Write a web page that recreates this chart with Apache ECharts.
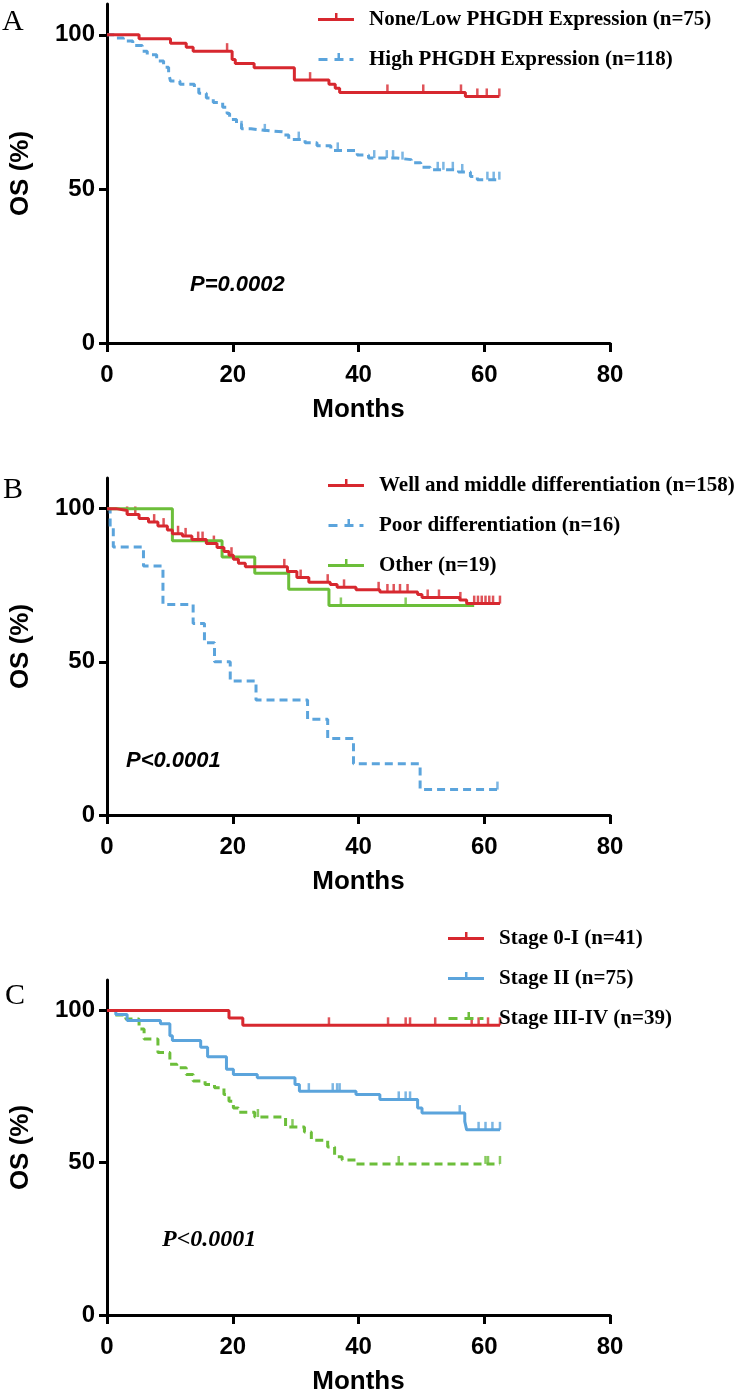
<!DOCTYPE html>
<html>
<head>
<meta charset="utf-8">
<style>
  html, body { margin: 0; padding: 0; background: #fff; }
  #J_Chart { width: 743px; height: 1396px; }
</style>
<script src="https://cdn.jsdelivr.net/npm/echarts@6/dist/echarts.min.js"></script>
</head>
<body>
<div id="J_Chart"></div>
<script>
'use strict';

// ---- data (months / OS %) ----
const monthTicks = [0, 20, 40, 60, 80];
const osTicks = [0, 50, 100];

// A: PHGDH expression
const lowTimes = [0, 5.1, 10.1, 12.6, 13.7, 19.9, 20.4, 23.4, 29.8, 35.3, 36.3, 37.0, 57.0, 62.4];
const lowSurv = [100, 98.7, 97.3, 96.0, 94.7, 92.0, 90.7, 89.3, 85.3, 84.0, 82.7, 81.3, 80.0, 80.0];
const lowCensor = [19.1, 32.3, 44.6, 50.3, 56.3, 58.9, 60.4, 62.4];

const highTimes = [0, 1.1, 2.6, 4.1, 5.6, 6.4, 7.9, 9.0, 9.8, 10.1, 11.6, 13.9, 14.6, 15.8, 16.9, 18.4, 19.1, 19.5, 20.6, 21.4, 22.9, 25.1, 28.1, 28.9, 31.5, 33.4, 35.6, 39.8, 41.6, 46.1, 48.4, 49.9, 51.4, 55.9, 57.8, 58.9, 62.4];
const highSurv = [100, 99.0, 98.0, 96.5, 94.7, 93.5, 91.5, 89.5, 87.5, 85.0, 84.0, 83.0, 81.0, 79.5, 78.0, 76.5, 74.5, 72.5, 71.0, 69.5, 69.0, 68.5, 67.5, 66.0, 65.0, 64.0, 62.5, 61.0, 60.0, 59.5, 58.5, 57.0, 56.2, 55.5, 54.0, 53.0, 53.0];
const highCensor = [21.4, 25.1, 30.5, 36.7, 42.5, 44.5, 45.5, 47.0, 52.6, 53.5, 55.0, 56.5, 60.5, 61.5, 62.4];

// B: differentiation
const wellTimes = [0, 1.4, 3.2, 5.1, 6.6, 8.1, 9.6, 10.4, 12.0, 13.5, 15.8, 17.5, 18.6, 19.4, 20.1, 20.9, 22.0, 28.7, 30.2, 32.1, 35.5, 36.6, 39.6, 43.4, 49.4, 50.1, 56.1, 57.2, 62.5];
const wellSurv = [100, 99.4, 98.1, 96.8, 95.6, 94.3, 93.0, 91.8, 91.1, 89.9, 88.6, 87.3, 86.0, 84.8, 83.5, 82.2, 81.0, 79.5, 77.5, 76.0, 75.2, 74.3, 73.5, 72.8, 72.0, 71.0, 70.2, 69.0, 69.0];
const wellCensor = [3.2, 4.5, 7.5, 9.0, 11.3, 12.5, 14.5, 15.2, 17.0, 19.8, 28.2, 30.8, 35.1, 37.7, 43.2, 44.6, 45.6, 46.6, 47.8, 51.0, 52.8, 56.2, 58.4, 59.0, 59.6, 60.2, 60.8, 61.4, 62.5];

const poorTimes = [0, 0.5, 1.0, 5.8, 8.9, 13.7, 15.5, 17.1, 19.6, 23.7, 31.9, 35.1, 39.2, 49.8, 62.1];
const poorSurv = [100, 93.75, 87.5, 81.25, 68.75, 62.5, 56.25, 50.0, 43.75, 37.5, 31.25, 25.0, 16.7, 8.3, 8.3];
const poorCensor = [62.1];

const otherTimes = [0, 10.4, 18.3, 23.5, 28.9, 35.3, 58.4];
const otherSurv = [100, 89.5, 84.2, 78.9, 73.7, 68.4, 68.4];
const otherCensor = [37.2, 47.5];

// C: stage
const s0Times = [0, 19.4, 21.6, 62.5];
const s0Surv = [100, 97.56, 95.12, 95.12];
const s0Censor = [35.3, 44.7, 47.5, 48.2, 52.2, 58.0, 59.1, 60.6, 62.5];

const s2Times = [0, 1.4, 3.2, 8.5, 10.0, 10.4, 14.9, 16.0, 19.0, 20.1, 23.9, 29.9, 30.6, 39.6, 43.4, 49.4, 50.1, 56.9, 57.2, 62.5];
const s2Surv = [100, 98.7, 96.7, 95.6, 91.7, 90.1, 87.9, 84.8, 80.7, 79.0, 77.9, 75.7, 73.5, 72.4, 70.8, 68.0, 66.3, 63.6, 60.8, 60.8];
const s2Censor = [32.1, 35.9, 36.6, 37.0, 46.4, 47.5, 48.2, 56.1, 59.1, 60.2, 61.3, 62.5];

const s3Times = [0, 1.3, 3.0, 5.1, 5.9, 8.1, 10.0, 11.1, 12.6, 13.7, 15.6, 17.1, 18.6, 19.4, 20.1, 20.9, 23.5, 28.4, 31.4, 32.5, 35.1, 36.2, 37.4, 39.6, 62.5];
const s3Surv = [100, 98.5, 97.2, 93.9, 90.6, 86.2, 82.3, 81.2, 79.0, 76.8, 75.7, 74.6, 72.4, 70.2, 68.0, 66.6, 65.0, 61.7, 60.1, 57.4, 55.2, 52.0, 50.9, 49.6, 49.6];
const s3Censor = [24.0, 29.5, 46.4, 60.2, 60.6, 62.5];

// ---- styling ----
const RED = '#d7282f';
const BLUE = '#5ba4dc';
const GREEN = '#6cbe3a';
const SANS = '"Liberation Sans", Arial, sans-serif';
const SERIF = '"Liberation Serif", "Times New Roman", serif';

const ICON_SOLID = 'path://M0,0H0.01V0.01H0Z M0,15H0.01V15.01H0Z M0,6H36V9H0Z M17,1H19.5V6H17Z';
const ICON_DASH = 'path://M0,0H0.01V0.01H0Z M0,15H0.01V15.01H0Z M0,6H9V9H0Z M16,6H25V9H16Z M19,1H21.5V6H19Z M31,6H35V9H31Z';

const grids = [
  { left: 102, width: 508, top: 4, height: 339 },
  { left: 102, width: 508, top: 478, height: 337 },
  { left: 102, width: 508, top: 980, height: 340 },
];

function survAt(times, surv, t) {
  let v = surv[0];
  for (let i = 0; i < times.length; i++) {
    if (times[i] <= t) v = surv[i];
  }
  return v;
}

function curve(name, times, surv, censor, idx, color, dashed) {
  return [
    {
      name,
      type: 'line',
      step: 'end',
      xAxisIndex: idx,
      yAxisIndex: idx,
      data: times.map((t, i) => [t, surv[i]]),
      showSymbol: false,
      symbol: 'none',
      lineStyle: { color, width: 3, type: dashed ? [8, 5] : 'solid' },
      itemStyle: { color },
      emphasis: { disabled: true },
      animation: false,
    },
    {
      name,
      type: 'scatter',
      xAxisIndex: idx,
      yAxisIndex: idx,
      data: censor.map((t) => [t, survAt(times, surv, t)]),
      symbol: 'rect',
      symbolSize: [2.5, 8],
      symbolOffset: [0, -4],
      itemStyle: { color },
      emphasis: { disabled: true },
      animation: false,
    },
  ];
}

const xAxes = grids.map((g, i) => ({
  type: 'value',
  gridIndex: i,
  min: 0,
  max: 80,
  interval: 20,
  name: 'Months',
  nameLocation: 'middle',
  nameGap: 54,
  nameTextStyle: { fontFamily: SANS, fontWeight: 'bold', fontSize: 26, color: '#000' },
  axisLine: { lineStyle: { color: '#000', width: 3 } },
  axisTick: { length: 9, customValues: monthTicks, lineStyle: { width: 3, color: '#000' } },
  axisLabel: { margin: 20, customValues: monthTicks, fontFamily: SANS, fontWeight: 'bold', fontSize: 24, color: '#000' },
  splitLine: { show: false },
}));

const yAxes = grids.map((g, i) => ({
  type: 'value',
  gridIndex: i,
  min: 0,
  max: 110,
  name: 'OS (%)',
  nameLocation: 'middle',
  nameGap: 73,
  nameTextStyle: { fontFamily: SANS, fontWeight: 'bold', fontSize: 26, color: '#000' },
  axisLine: { show: true, lineStyle: { color: '#000', width: 3 } },
  axisTick: { show: true, length: 8, customValues: osTicks, lineStyle: { width: 3, color: '#000' } },
  axisLabel: { margin: 12, customValues: osTicks, fontFamily: SANS, fontWeight: 'bold', fontSize: 24, color: '#000' },
  splitLine: { show: false },
}));

function legend(top, left, items) {
  return {
    orient: 'vertical',
    top,
    left,
    itemWidth: 36,
    itemHeight: 15,
    itemGap: 17,
    selectedMode: false,
    itemStyle: { borderWidth: 0 },
    textStyle: { fontFamily: SERIF, fontWeight: 'bold', fontSize: 21, lineHeight: 23, color: '#000', padding: [0, 0, 0, 10] },
    data: items,
  };
}

const option = {
  backgroundColor: '#fff',
  grid: grids,
  xAxis: xAxes,
  yAxis: yAxes,
  legend: [
    legend(3, 313, [
      { name: 'None/Low PHGDH Expression (n=75)', icon: ICON_SOLID },
      { name: 'High PHGDH Expression (n=118)', icon: ICON_DASH },
    ]),
    legend(469, 323, [
      { name: 'Well and middle differentiation (n=158)', icon: ICON_SOLID },
      { name: 'Poor differentiation (n=16)', icon: ICON_DASH },
      { name: 'Other (n=19)', icon: ICON_SOLID },
    ]),
    legend(922, 443, [
      { name: 'Stage 0-I (n=41)', icon: ICON_SOLID },
      { name: 'Stage II (n=75)', icon: ICON_SOLID },
      { name: 'Stage III-IV (n=39)', icon: ICON_DASH },
    ]),
  ],
  graphic: [
    { type: 'text', left: 2, top: 7, style: { text: 'A', font: '30px ' + SERIF, fill: '#000' } },
    { type: 'text', left: 3, top: 475, style: { text: 'B', font: '30px ' + SERIF, fill: '#000' } },
    { type: 'text', left: 5, top: 981, style: { text: 'C', font: '30px ' + SERIF, fill: '#000' } },
    { type: 'text', left: 190, top: 274, style: { text: 'P=0.0002', font: 'italic bold 22px ' + SANS, fill: '#000' } },
    { type: 'text', left: 126, top: 750, style: { text: 'P<0.0001', font: 'italic bold 22px ' + SANS, fill: '#000' } },
    { type: 'text', left: 162, top: 1228, style: { text: 'P<0.0001', font: 'italic bold 24px ' + SERIF, fill: '#000' } },
  ],
  series: [
    ...curve('High PHGDH Expression (n=118)', highTimes, highSurv, highCensor, 0, BLUE, true),
    ...curve('None/Low PHGDH Expression (n=75)', lowTimes, lowSurv, lowCensor, 0, RED, false),
    ...curve('Poor differentiation (n=16)', poorTimes, poorSurv, poorCensor, 1, BLUE, true),
    ...curve('Other (n=19)', otherTimes, otherSurv, otherCensor, 1, GREEN, false),
    ...curve('Well and middle differentiation (n=158)', wellTimes, wellSurv, wellCensor, 1, RED, false),
    ...curve('Stage III-IV (n=39)', s3Times, s3Surv, s3Censor, 2, GREEN, true),
    ...curve('Stage II (n=75)', s2Times, s2Surv, s2Censor, 2, BLUE, false),
    ...curve('Stage 0-I (n=41)', s0Times, s0Surv, s0Censor, 2, RED, false),
  ],
};

const myChart = echarts.init(document.getElementById('J_Chart'), null, { renderer: 'canvas' });
myChart.setOption(option);
</script>
</body>
</html>
